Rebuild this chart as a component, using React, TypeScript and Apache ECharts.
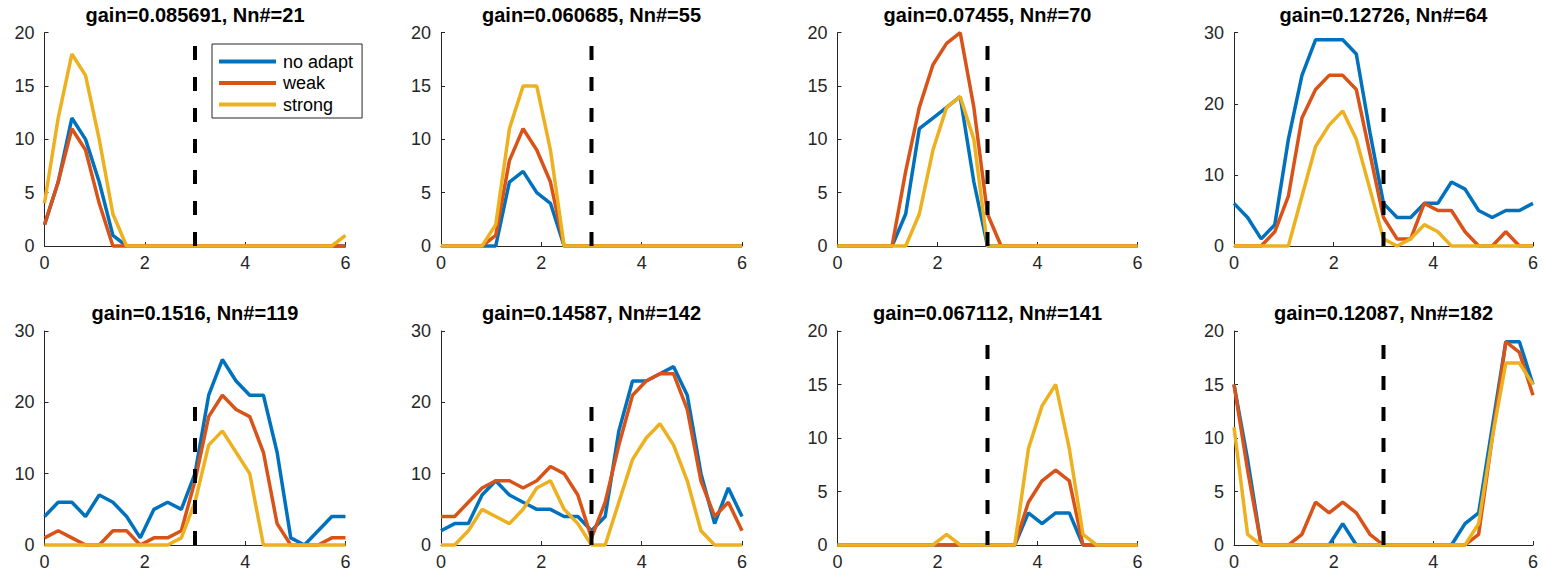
import React, { useEffect, useRef } from "react";
import * as echarts from "echarts";

// Bin centres shared by every panel (0 … 6 in 22 steps)
const binCenters = [
  0, 0.2727, 0.5455, 0.8182, 1.0909, 1.3636, 1.6364, 1.9091, 2.1818, 2.4545,
  2.7273, 3, 3.2727, 3.5455, 3.8182, 4.0909, 4.3636, 4.6364, 4.9091, 5.1818,
  5.4545, 5.7273, 6,
];

const seriesNames = ["no adapt", "weak", "strong"];
const seriesColors = ["#0072BD", "#D95319", "#EDB120"];

const panelTitles = [
  "gain=0.085691, Nn#=21",
  "gain=0.060685, Nn#=55",
  "gain=0.07455, Nn#=70",
  "gain=0.12726, Nn#=64",
  "gain=0.1516, Nn#=119",
  "gain=0.14587, Nn#=142",
  "gain=0.067112, Nn#=141",
  "gain=0.12087, Nn#=182",
];

const yMax = [20, 20, 20, 30, 30, 30, 20, 20];
const yStep = [5, 5, 5, 10, 10, 10, 5, 5];
const xTicks = { min: 0, max: 6, step: 2 };

// Stimulus boundary marker
const boundaryX = 3;
const boundaryTop = 20;

// Counts per bin: [no adapt, weak, strong] for each panel
const panel1 = [
  [2, 6, 12, 10, 6, 1, 0, 0, 0, 0, 0, 0, 0, 0, 0, 0, 0, 0, 0, 0, 0, 0, 0],
  [2, 6, 11, 9, 4, 0, 0, 0, 0, 0, 0, 0, 0, 0, 0, 0, 0, 0, 0, 0, 0, 0, 0],
  [4, 12, 18, 16, 10, 3, 0, 0, 0, 0, 0, 0, 0, 0, 0, 0, 0, 0, 0, 0, 0, 0, 1],
];
const panel2 = [
  [0, 0, 0, 0, 0, 6, 7, 5, 4, 0, 0, 0, 0, 0, 0, 0, 0, 0, 0, 0, 0, 0, 0],
  [0, 0, 0, 0, 1, 8, 11, 9, 6, 0, 0, 0, 0, 0, 0, 0, 0, 0, 0, 0, 0, 0, 0],
  [0, 0, 0, 0, 2, 11, 15, 15, 9, 0, 0, 0, 0, 0, 0, 0, 0, 0, 0, 0, 0, 0, 0],
];
const panel3 = [
  [0, 0, 0, 0, 0, 3, 11, 12, 13, 14, 6, 0, 0, 0, 0, 0, 0, 0, 0, 0, 0, 0, 0],
  [0, 0, 0, 0, 0, 7, 13, 17, 19, 20, 13, 3, 0, 0, 0, 0, 0, 0, 0, 0, 0, 0, 0],
  [0, 0, 0, 0, 0, 0, 3, 9, 13, 14, 10, 0, 0, 0, 0, 0, 0, 0, 0, 0, 0, 0, 0],
];
const panel4 = [
  [6, 4, 1, 3, 15, 24, 29, 29, 29, 27, 16, 6, 4, 4, 6, 6, 9, 8, 5, 4, 5, 5, 6],
  [0, 0, 0, 2, 7, 18, 22, 24, 24, 22, 13, 4, 1, 1, 6, 5, 5, 2, 0, 0, 2, 0, 0],
  [0, 0, 0, 0, 0, 7, 14, 17, 19, 15, 8, 1, 0, 1, 3, 2, 0, 0, 0, 0, 0, 0, 0],
];
const panel5 = [
  [4, 6, 6, 4, 7, 6, 4, 1, 5, 6, 5, 10, 21, 26, 23, 21, 21, 13, 1, 0, 2, 4, 4],
  [1, 2, 1, 0, 0, 2, 2, 0, 1, 1, 2, 9, 18, 21, 19, 18, 13, 3, 0, 0, 0, 1, 1],
  [0, 0, 0, 0, 0, 0, 0, 0, 0, 0, 1, 6, 14, 16, 13, 10, 0, 0, 0, 0, 0, 0, 0],
];
const panel6 = [
  [2, 3, 3, 7, 9, 7, 6, 5, 5, 4, 4, 2, 4, 16, 23, 23, 24, 25, 21, 10, 3, 8, 4],
  [4, 4, 6, 8, 9, 9, 8, 9, 11, 10, 7, 1, 6, 14, 21, 23, 24, 24, 19, 9, 4, 6, 2],
  [0, 0, 2, 5, 4, 3, 5, 8, 9, 5, 3, 0, 0, 6, 12, 15, 17, 14, 9, 2, 0, 0, 0],
];
const panel7 = [
  [0, 0, 0, 0, 0, 0, 0, 0, 0, 0, 0, 0, 0, 0, 3, 2, 3, 3, 0, 0, 0, 0, 0],
  [0, 0, 0, 0, 0, 0, 0, 0, 0, 0, 0, 0, 0, 0, 4, 6, 7, 6, 0, 0, 0, 0, 0],
  [0, 0, 0, 0, 0, 0, 0, 0, 1, 0, 0, 0, 0, 0, 9, 13, 15, 9, 1, 0, 0, 0, 0],
];
const panel8 = [
  [15, 8, 0, 0, 0, 0, 0, 0, 2, 0, 0, 0, 0, 0, 0, 0, 0, 2, 3, 11, 19, 19, 15],
  [15, 7, 0, 0, 0, 1, 4, 3, 4, 3, 1, 0, 0, 0, 0, 0, 0, 0, 1, 10, 19, 18, 14],
  [11, 1, 0, 0, 0, 0, 0, 0, 0, 0, 0, 0, 0, 0, 0, 0, 0, 0, 2, 10, 17, 17, 15],
];

const panels = [panel1, panel2, panel3, panel4, panel5, panel6, panel7, panel8];

// Layout of the 2 x 4 grid of axes (pixels)
const colLeft = [44.5, 441, 837.5, 1234];
const colWidth = [301, 301, 300, 299];
const rowTop = [32.7, 331];
const rowHeight = [213.3, 214];
const titleCenterY = [15, 313];

const FONT = "'Liberation Sans', Arial, Helvetica, sans-serif";
const AXIS_COLOR = "#262626";

function buildOption() {
  const grid: any[] = [];
  const xAxis: any[] = [];
  const yAxis: any[] = [];
  const series: any[] = [];
  const graphic: any[] = [];

  panels.forEach((panel, k) => {
    const col = k % 4;
    const row = Math.floor(k / 4);
    grid.push({
      left: colLeft[col],
      top: rowTop[row],
      width: colWidth[col],
      height: rowHeight[row],
      containLabel: false,
    });
    const axisCommon = {
      gridIndex: k,
      type: "value",
      axisLine: { show: true, onZero: false, lineStyle: { color: AXIS_COLOR, width: 1 } },
      axisTick: { show: true, inside: true, length: 4, lineStyle: { color: AXIS_COLOR, width: 1 } },
      splitLine: { show: false },
    };
    xAxis.push({
      ...axisCommon,
      min: xTicks.min,
      max: xTicks.max,
      interval: xTicks.step,
      axisLabel: { color: AXIS_COLOR, fontSize: 18, fontFamily: FONT, margin: 8 },
    });
    yAxis.push({
      ...axisCommon,
      min: 0,
      max: yMax[k],
      interval: yStep[k],
      axisLabel: { color: AXIS_COLOR, fontSize: 18, fontFamily: FONT, margin: 10 },
    });

    panel.forEach((values, s) => {
      series.push({
        type: "line",
        name: seriesNames[s],
        xAxisIndex: k,
        yAxisIndex: k,
        data: binCenters.map((x, i) => [x, values[i]]),
        symbol: "none",
        showSymbol: false,
        clip: false,
        lineStyle: { color: seriesColors[s], width: 3.5 },
        itemStyle: { color: seriesColors[s] },
        z: 2 + s * 0.01,
      });
    });

    series.push({
      type: "line",
      name: "boundary",
      xAxisIndex: k,
      yAxisIndex: k,
      data: [
        [boundaryX, 0],
        [boundaryX, boundaryTop],
      ],
      symbol: "none",
      showSymbol: false,
      clip: false,
      lineStyle: { color: "#000", width: 4, type: [14, 17] },
      z: 3,
    });

    graphic.push({
      type: "text",
      x: colLeft[col] + colWidth[col] / 2,
      y: titleCenterY[row],
      style: {
        text: panelTitles[k],
        fill: "#000",
        font: `bold 20px ${FONT}`,
        textAlign: "center",
        textVerticalAlign: "middle",
      },
    });
  });

  return {
    animation: false,
    backgroundColor: "#fff",
    grid,
    xAxis,
    yAxis,
    series,
    graphic,
    legend: {
      show: true,
      data: seriesNames.map((name) => ({ name, icon: "rect" })),
      orient: "vertical",
      left: 212,
      top: 44,
      itemWidth: 57,
      itemHeight: 4,
      itemGap: 3.5,
      itemStyle: { borderWidth: 0 },
      padding: [8.5, 9, 4.5, 7],
      borderColor: AXIS_COLOR,
      borderWidth: 1,
      borderRadius: 0,
      backgroundColor: "#fff",
      selectedMode: false,
      textStyle: { fontSize: 18, color: "#000", fontFamily: FONT, padding: [0, 0, 0, 2] },
      z: 10,
    },
  };
}

export default function App() {
  const ref = useRef<HTMLDivElement>(null);
  useEffect(() => {
    if (!ref.current) return;
    const chart = echarts.init(ref.current, null, { renderer: "svg" });
    chart.setOption(buildOption() as any);
    return () => chart.dispose();
  }, []);
  return (
    <div
      ref={ref}
      style={{ position: "absolute", left: 0, top: 0, width: 1544, height: 577, background: "#fff" }}
    />
  );
}
